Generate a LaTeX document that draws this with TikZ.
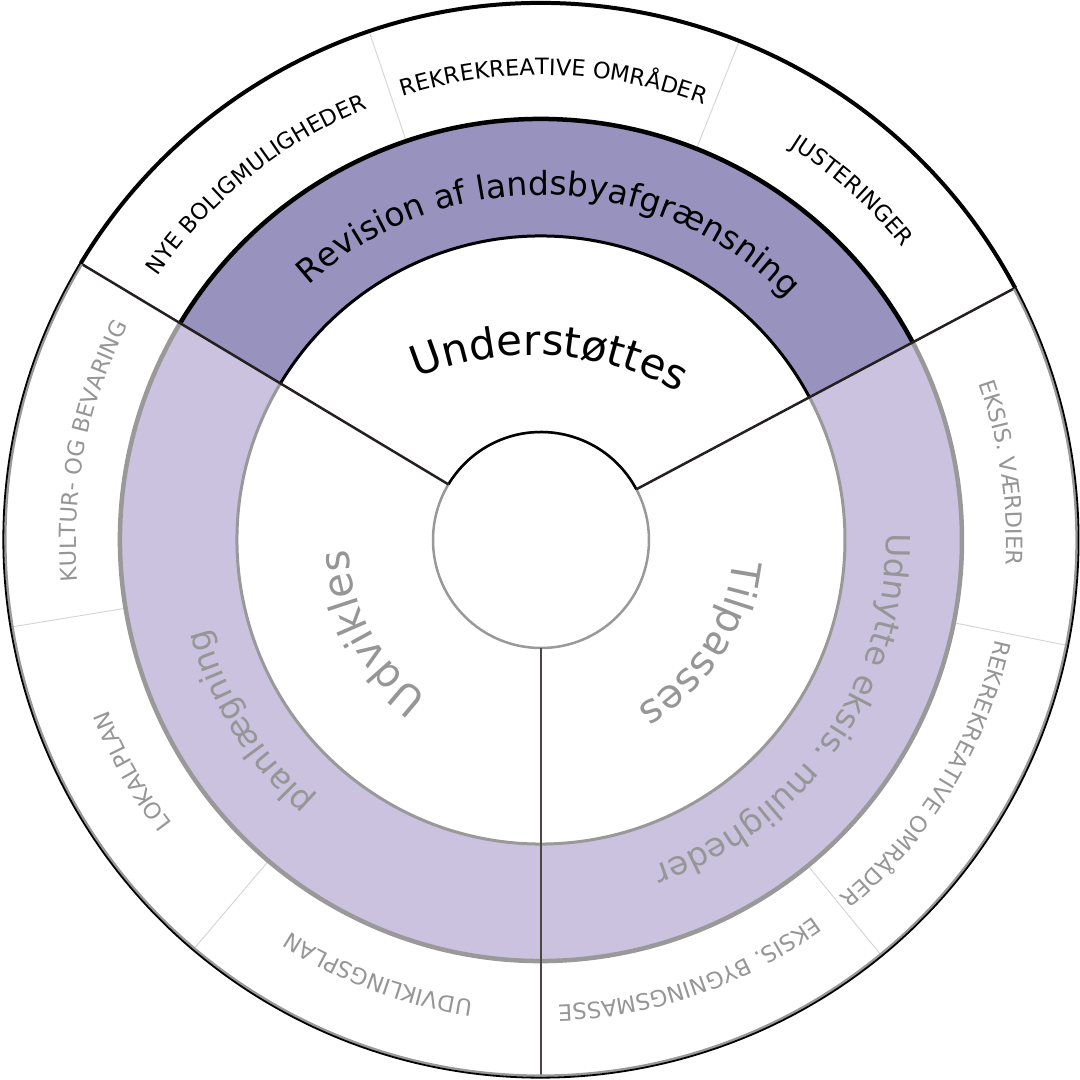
\documentclass[tikz,border=0pt]{standalone}
\usepackage{fontspec}
\setmainfont{DejaVu Sans}
\usetikzlibrary{decorations.text}
\definecolor{bandtop}{RGB}{152,146,191}
\definecolor{bandlow}{RGB}{202,194,222}
\definecolor{lgray}{RGB}{153,153,153}
\definecolor{tgray}{RGB}{150,150,150}
\definecolor{sepgray}{RGB}{212,212,212}
\definecolor{divdark}{RGB}{36,32,32}
\definecolor{divbottom}{RGB}{78,70,70}
\newcommand\ringlabel[5]{%
  \path[decorate, decoration={text along path, text align=center, text color=#1,
    text={|\fontsize{#2}{#2}\selectfont|#5}}]
    (#4+60:#3) arc[start angle=#4+60, end angle=#4-60, radius=#3];}
\begin{document}
\begin{tikzpicture}[x=1pt,y=1pt,
  topedge/.style={black, line width=#1},
  lowedge/.style={lgray, line width=#1}]
\useasboundingbox (-541,-540) rectangle (539,540);
\fill[white] (-541,-540) rectangle (539,540);
\def\aA{28}\def\aB{149}\def\aC{270}\def\aD{388}
% bands
\fill[bandtop] (\aA:421) arc[start angle=\aA,end angle=\aB,radius=421] -- (\aB:304) arc[start angle=\aB,end angle=\aA,radius=304] -- cycle;
\fill[bandlow] (\aB:421) arc[start angle=\aB,end angle=\aD,radius=421] -- (\aD:304) arc[start angle=\aD,end angle=\aB,radius=304] -- cycle;
% thin separators in outer ring
\foreach \a in {68.33,108.67,189.33,229.67,309.33,348.67}
  \draw[sepgray, line width=0.9] (\a:421) -- (\a:536);
% band edges
\draw[topedge=4.5] (\aA:421) arc[start angle=\aA,end angle=\aB,radius=421];
\draw[topedge=3] (\aA:304) arc[start angle=\aA,end angle=\aB,radius=304];
\draw[lowedge=4.5] (\aB:421) arc[start angle=\aB,end angle=\aD,radius=421];
\draw[lowedge=3] (\aB:304) arc[start angle=\aB,end angle=\aD,radius=304];
% inner circle
\draw[lowedge=2.5] (0,0) circle[radius=108];
\draw[topedge=2.5] (\aA:108) arc[start angle=\aA,end angle=\aB,radius=108];
% dividers
\draw[divdark, line width=2.5] (\aA:108) -- (\aA:537);
\draw[divdark, line width=2.5] (\aB:108) -- (\aB:537);
\draw[divbottom, line width=2.5] (\aC:108) -- (\aC:537);
% outer circle
\draw[lowedge=2.5] (\aB:535.6) arc[start angle=\aB,end angle=\aD,radius=535.6];
\draw[black, line width=1.8] (\aB:537.6) arc[start angle=\aB,end angle=\aD,radius=537.6];
\draw[topedge=4] (\aA:537) arc[start angle=\aA,end angle=\aB,radius=537];
% outer labels
\ringlabel{black}{22.5}{465}{128.7}{NYE BOLIGMULIGHEDER}
\ringlabel{black}{22.5}{465}{88.4}{REKREKREATIVE OMRÅDER}
\ringlabel{black}{22.5}{465}{48.3}{JUSTERINGER}
\ringlabel{tgray}{22.5}{465}{168.8}{KULTUR- OG BEVARING}
\ringlabel{tgray}{22.5}{465}{209.5}{LOKALPLAN}
\ringlabel{tgray}{22.5}{465}{249.5}{UDVIKLINGSPLAN}
\ringlabel{tgray}{22.5}{465}{8.3}{EKSIS. VÆRDIER}
\ringlabel{tgray}{22.5}{465}{-31.2}{REKREKREATIVE OMRÅDER}
\ringlabel{tgray}{22.5}{465}{-71}{EKSIS. BYGNINGSMASSE}
% band labels
\ringlabel{black}{33}{345}{88.4}{Revision af landsbyafgrænsning}
\ringlabel{tgray}{33}{345}{212}{planlægning}
\ringlabel{tgray}{33}{345}{-35}{Udnytte eksis. muligheder}
% inner labels
\path[decorate, decoration={text along path, text align=center, text color=black,
    text={|\fontsize{42}{42}\selectfont|Understøttes}}]
    ([shift={(-8,-115)}]126.8:300) arc[start angle=126.8, end angle=46.8, radius=300];
\ringlabel{tgray}{41}{193}{208.5}{Udvikles}
\ringlabel{tgray}{40}{193}{-33}{Tilpasses}
\end{tikzpicture}
\end{document}
